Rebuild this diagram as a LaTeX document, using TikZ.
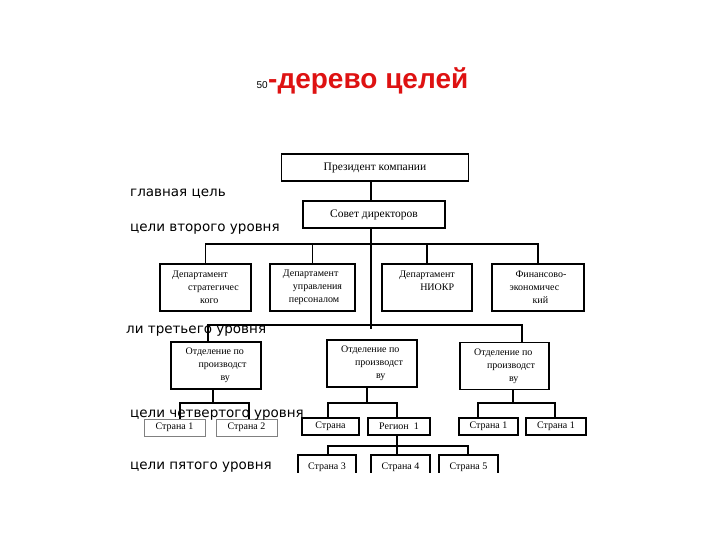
\documentclass[tikz,border=0pt]{standalone}
\usepackage{fontspec}
\setmainfont{Liberation Serif}
\newfontfamily\goalfont{DejaVu Sans}
\newfontfamily\headfont{Liberation Sans}
\definecolor{headred}{RGB}{222,18,18}
\begin{document}
\begin{tikzpicture}[x=1pt, y=-1pt,
  box/.style={draw, line width=1.8pt, inner sep=0pt, align=left,
    font=\fontsize{10}{13}\selectfont},
  bigbox/.style={box, font=\fontsize{11.5}{14}\selectfont},
  thinbox/.style={box, draw=gray, line width=0.9pt},
  link/.style={line width=1.9pt},
  thinlink/.style={line width=1.1pt},
  goal/.style={anchor=west, inner sep=0pt, font=\goalfont\fontsize{13.5}{16}\selectfont}]
  \useasboundingbox (0,0) rectangle (720,540);
  \node[anchor=base west, inner sep=0pt, text=headred, font=\headfont\bfseries\fontsize{28}{32}\selectfont] (title) at (268,89) {-дерево целей};
  \node[anchor=base east, inner sep=0pt, font=\headfont\fontsize{10}{12}\selectfont] (num) at (title.base west) {50};
  \node[bigbox, minimum width=187, minimum height=27] (pres)  at (375,167.5) {Президент компании};
  \node[bigbox, minimum width=142, minimum height=27] (sovet) at (374,214.5) {Совет директоров};
  \node[box, minimum width=91, minimum height=47] (d1) at (205.5,287.5) {Департамент\\\hspace*{16pt}стратегичес\\\hspace*{28pt}кого};
  \node[box, minimum width=85, minimum height=47] (d2) at (312.5,287.5) {Департамент\\\hspace*{10pt}управления\\\hspace*{6pt}персоналом};
  \node[box, minimum width=90, minimum height=47] (d3) at (427,287.5) {Департамент\\\hspace*{21pt}НИОКР\\~};
  \node[box, minimum width=92, minimum height=47] (d4) at (538,287.5) {\hspace*{6pt}Финансово-\\экономичес\\\hspace*{23pt}кий};
  \node[box, minimum width=90, minimum height=47] (o1) at (216,365.5) {Отделение по\\\hspace*{13pt}производст\\\hspace*{35pt}ву};
  \node[box, minimum width=90, minimum height=47] (o2) at (372,363.5) {Отделение по\\\hspace*{14pt}производст\\\hspace*{35pt}ву};
  \node[box, minimum width=89, minimum height=47] (o3) at (504.5,366) {Отделение по\\\hspace*{13pt}производст\\\hspace*{35pt}ву};
  \node[thinbox, minimum width=61, minimum height=17] (s1) at (174.5,427.5) {Страна 1};
  \node[thinbox, minimum width=61, minimum height=17] (s2) at (246.5,427.5) {Страна 2};
  \node[box, minimum width=57, minimum height=17] (s3) at (330.5,426.5) {Страна};
  \node[box, minimum width=62, minimum height=17] (r1) at (399,426.5) {Регион\ \ 1};
  \node[box, minimum width=59, minimum height=17] (s5) at (488.5,426.5) {Страна 1};
  \node[box, minimum width=60, minimum height=17] (s6) at (556,426.5) {Страна 1};
  \begin{scope}
    \clip (0,0) rectangle (720,472.5);
    \node[box, minimum width=58, minimum height=24] (s7) at (327,467) {Страна 3};
    \node[box, minimum width=59, minimum height=24] (s8) at (400.5,467) {Страна 4};
    \node[box, minimum width=59, minimum height=24] (s9) at (468.5,467) {Страна 5};
  \end{scope}
  \coordinate (bar2) at (0,244);
  \coordinate (bar3) at (0,325);
  \coordinate (bar4) at (0,403);
  \coordinate (bar5) at (0,446);
  \coordinate (trunk) at (371,329);
  \draw[link] (pres.south -| trunk) -- (sovet.north -| trunk);
  \draw[link] (sovet.south -| trunk) -- (trunk);
  \draw[link] (d1.north) -- (d1.north |- bar2) -- (d4.north |- bar2) -- (d4.north);
  \draw[link] (d2.north) -- (d2.north |- bar2);
  \draw[link] (d3.north) -- (d3.north |- bar2);
  \draw[link] ([xshift=-8]o1.north) -- ([xshift=-8]o1.north |- bar3) -- ([xshift=17.5]o3.north |- bar3) -- ([xshift=17.5]o3.north);
  \draw[thinlink] ([xshift=-3]o1.south) -- ([xshift=-3]o1.south |- bar4);
  \draw[thinlink] ([xshift=5.5]s1.north) -- ([xshift=5.5]s1.north |- bar4) -- ([xshift=2.5]s2.north |- bar4) -- ([xshift=2.5]s2.north);
  \draw[link] ([xshift=-5]o2.south) -- ([xshift=-5]o2.south |- bar4);
  \draw[link] ([xshift=-2.5]s3.north) -- ([xshift=-2.5]s3.north |- bar4) -- ([xshift=-2]r1.north |- bar4) -- ([xshift=-2]r1.north);
  \draw[link] ([xshift=8.5]o3.south) -- ([xshift=8.5]o3.south |- bar4);
  \draw[link] ([xshift=-10.5]s5.north) -- ([xshift=-10.5]s5.north |- bar4) -- ([xshift=-1]s6.north |- bar4) -- ([xshift=-1]s6.north);
  \draw[thinlink] ([xshift=-2]r1.south) -- ([xshift=-2]r1.south |- bar5);
  \draw[thinlink] ([xshift=1]s7.north) -- ([xshift=1]s7.north |- bar5) -- ([xshift=-0.5]s9.north |- bar5) -- ([xshift=-0.5]s9.north);
  \draw[thinlink] ([xshift=-3.5]s8.north) -- ([xshift=-3.5]s8.north |- bar5);
  \node[goal] (g1) at (130,194) {главная цель};
  \node[goal] (g2) at (130,229) {цели второго уровня};
  \node[goal] (g3) at (126,331) {ли третьего уровня};
  \node[goal] (g4) at (130,415) {цели четвертого уровня};
  \node[goal] (g5) at (130,467) {цели пятого уровня};
\end{tikzpicture}
\end{document}
